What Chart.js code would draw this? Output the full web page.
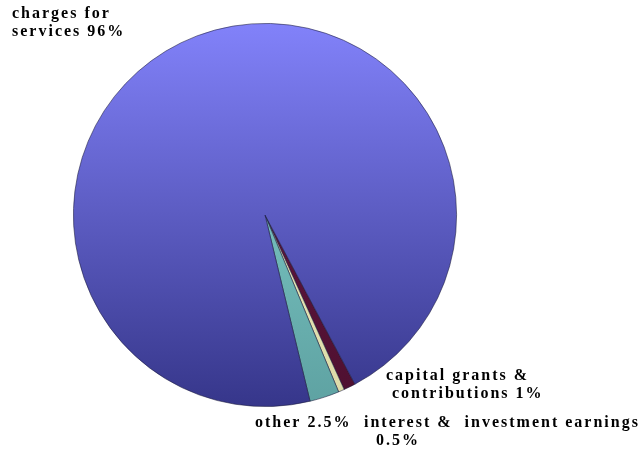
<!DOCTYPE html>
<html>
<head>
<meta charset="utf-8">
<script src="https://cdn.jsdelivr.net/npm/chart.js@4/dist/chart.umd.min.js"></script>
<style>
  html, body { margin: 0; padding: 0; background: #fff; }
  #wrap { width: 642px; height: 451px; position: relative; }
</style>
</head>
<body>
<div id="wrap"><canvas id="myChart"></canvas></div>
<script>
// slices, clockwise from the small ones
var categories = ['capital grants & contributions', 'interest & investment earnings', 'other', 'charges for services'];
var shares     = [1, 0.5, 2.5, 96];

// label text, one array of lines per slice
var labelLines = [
	['capital grants &', ' contributions 1%'],
	['interest &  investment earnings', '  0.5%'],
	['other 2.5%'],
	['charges for', 'services 96%']
];
// where each label sits (left x, first baseline y)
var labelPos = [[386, 380], [364, 427], [255, 427], [12, 18]];

// top / bottom colour of each slice gradient
var topColors    = ['#6a1a48', '#f6f4c8', '#8ad8d4', '#8282fa'];
var bottomColors = ['#4e1030', '#dcdaa8', '#5ea2a2', '#36368a'];

function sliceFill(context) {
	var chart = context.chart;
	var area = chart.chartArea;
	if (!area) return topColors[context.dataIndex];
	var g = chart.ctx.createLinearGradient(0, area.top, 0, area.bottom);
	g.addColorStop(0, topColors[context.dataIndex]);
	g.addColorStop(1, bottomColors[context.dataIndex]);
	return g;
}

var labelPlugin = {
	id: 'sliceLabels',
	afterDraw: function(chart) {
		var ctx = chart.ctx;
		ctx.save();
		ctx.fillStyle = '#000';
		ctx.font = 'bold 16px "Liberation Serif", "DejaVu Serif", serif';
		ctx.textAlign = 'left';
		ctx.textBaseline = 'alphabetic';
		if ('letterSpacing' in ctx) ctx.letterSpacing = '2px';
		for (var i = 0; i < labelLines.length; i++) {
			for (var j = 0; j < labelLines[i].length; j++) {
				ctx.fillText(labelLines[i][j], labelPos[i][0], labelPos[i][1] + j * 18);
			}
		}
		ctx.restore();
	}
};

var ctx = document.getElementById('myChart').getContext('2d');
new Chart(ctx, {
	type: 'pie',
	data: {
		labels: categories,
		datasets: [{
			data: shares,
			backgroundColor: sliceFill,
			borderColor: 'rgba(25,25,60,0.7)',
			borderWidth: 0.8
		}]
	},
	options: {
		responsive: true,
		maintainAspectRatio: false,
		animation: false,
		rotation: 152,
		layout: { padding: { top: 23, bottom: 44, left: 73, right: 185 } },
		plugins: {
			legend: { display: false },
			tooltip: { enabled: false }
		}
	},
	plugins: [labelPlugin]
});
</script>
</body>
</html>
